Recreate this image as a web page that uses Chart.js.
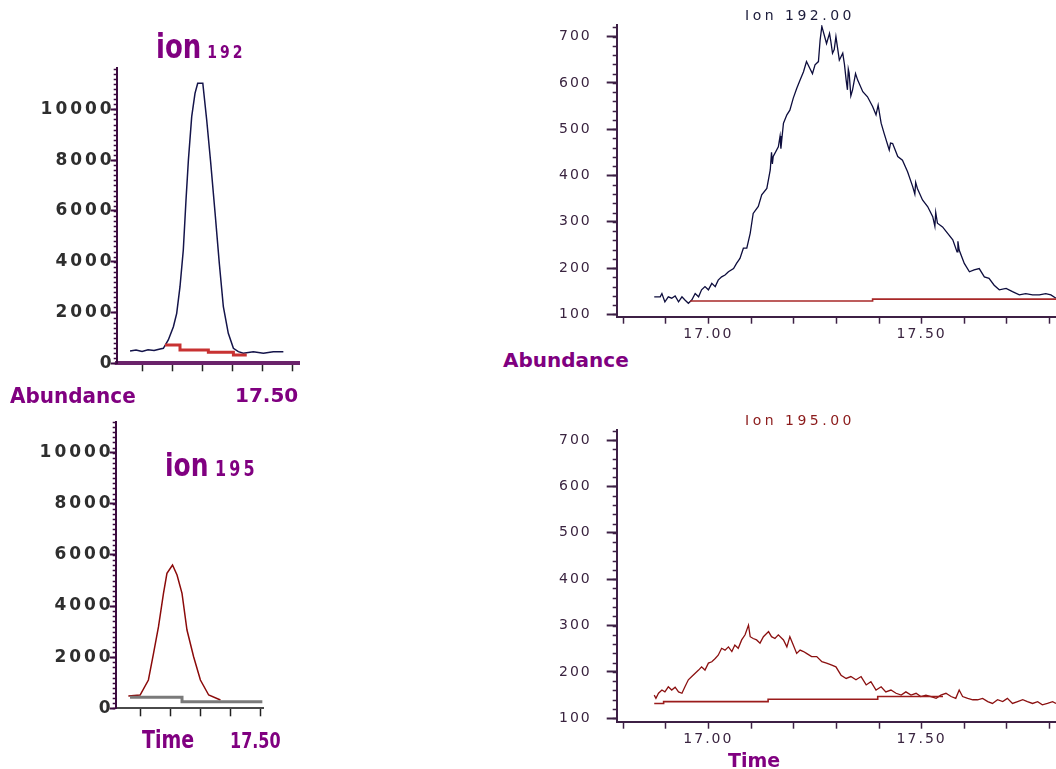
<!DOCTYPE html>
<html lang="en">
<head>
<meta charset="UTF-8">
<title>Ion 192 / Ion 195</title>
<script src="https://cdn.jsdelivr.net/npm/chart.js"></script>
<style>
  html, body { margin: 0; padding: 0; background: #fff; }
  body { position: relative; width: 1056px; height: 769px; overflow: hidden; font-family: 'DejaVu Sans', sans-serif; }
  canvas { position: absolute; }
  .t { position: absolute; white-space: nowrap; font-weight: bold; color: #800080; }
  .ion { position: absolute; white-space: nowrap; font-size: 14px; line-height: 14px; letter-spacing: 3.5px; }
</style>
</head>
<body>
  <canvas id="ion192s" width="300" height="340" style="left:0;top:40px"></canvas>
  <canvas id="ion195s" width="264" height="325" style="left:0;top:400px"></canvas>
  <canvas id="ion192" width="516" height="345" style="left:540px;top:0"></canvas>
  <canvas id="ion195" width="516" height="350" style="left:540px;top:400px"></canvas>

  <div class="t" style="left:156px;top:36px;font-size:26px;line-height:26px;transform:scaleY(1.3);transform-origin:0 22px">ion<span style="font-size:14px;letter-spacing:3px;margin-left:-2px"> 192</span></div>
  <div class="t" style="left:10px;top:386px;font-size:20px;line-height:20px;transform:scaleY(1.1);transform-origin:0 17px">Abundance</div>
  <div class="t" style="left:235px;top:385px;font-size:20px;line-height:20px">17.50</div>

  <div class="t" style="left:165px;top:455px;font-size:25px;line-height:25px;transform:scaleY(1.3);transform-origin:0 21px">ion<span style="font-size:16px;letter-spacing:3px;margin-left:-2px"> 195</span></div>
  <div class="t" style="left:142px;top:732px;font-size:19px;line-height:19px;transform:scaleY(1.33);transform-origin:0 16px">Time</div>
  <div class="t" style="left:230px;top:735px;font-size:16px;line-height:16px;transform:scaleY(1.3);transform-origin:0 13.5px">17.50</div>

  <div class="ion" style="left:745px;top:8px;color:#1b1b3a">Ion 192.00</div>
  <div class="ion" style="left:745px;top:413px;color:#8b1a1a">Ion 195.00</div>
  <div class="t" style="left:503px;top:350px;font-size:20px;line-height:20px">Abundance</div>
  <div class="t" style="left:728px;top:751px;font-size:19px;line-height:19px">Time</div>

<script>
// ---- left panels: whole peak, 0-10000 scale ----
const tickSmallY = [0, 2000, 4000, 6000, 8000, 10000];
const tick192sX = [16.9, 17.1, 17.3, 17.5, 17.7, 17.9];
const tick195sX = [16.9, 17.1, 17.3, 17.5, 17.7];

const t192s = [16.82, 16.86, 16.90, 16.94, 16.98, 17.02, 17.042, 17.075, 17.109, 17.131, 17.153, 17.175, 17.193, 17.209, 17.231, 17.253, 17.271, 17.305, 17.331, 17.358, 17.387, 17.415, 17.442, 17.475, 17.509, 17.542, 17.575, 17.642, 17.709, 17.775, 17.842];
const v192s = [480, 520, 470, 530, 500, 560, 590, 917, 1441, 1968, 3016, 4461, 6429, 8004, 9709, 10630, 11024, 11024, 9579, 7874, 5906, 3937, 2228, 1181, 590, 457, 394, 457, 394, 457, 457];
const tBase192s = [17.053, 17.153, 17.342, 17.509, 17.598];
const vBase192s = [720, 523, 433, 327, 327];

const t195s = [16.822, 16.900, 16.955, 16.989, 17.022, 17.055, 17.078, 17.115, 17.145, 17.178, 17.211, 17.255, 17.300, 17.355, 17.433];
const v195s = [481, 520, 1107, 2152, 3192, 4499, 5282, 5607, 5215, 4499, 3063, 2019, 1107, 520, 325];
const tBase195s = [16.833, 17.178, 17.711];
const vBase195s = [430, 258, 258];

// ---- right panels: expanded, 100-700 scale ----
const tickTimeX = [16.8, 16.9, 17.0, 17.1, 17.2, 17.3, 17.4, 17.5, 17.6, 17.7, 17.8];
const labelTimeX = [17.0, 17.5];
const tickAbundY = [100, 200, 300, 400, 500, 600, 700];

const t192 = [16.873, 16.887, 16.891, 16.898, 16.906, 16.914, 16.922, 16.930, 16.938, 16.945, 16.953, 16.961, 16.969, 16.977, 16.984, 16.992,
  17.000, 17.008, 17.016, 17.023, 17.031, 17.039, 17.047, 17.059, 17.066, 17.074, 17.082, 17.090, 17.098, 17.105, 17.117, 17.125, 17.137, 17.145,
  17.148, 17.150, 17.152, 17.164, 17.168, 17.170, 17.172, 17.176, 17.184, 17.191, 17.199, 17.207, 17.215, 17.223, 17.230, 17.238, 17.244, 17.250,
  17.258, 17.262, 17.266, 17.277, 17.284, 17.287, 17.291, 17.295, 17.299, 17.307, 17.315, 17.319, 17.323, 17.326, 17.328, 17.330, 17.334, 17.338,
  17.345, 17.350, 17.362, 17.373, 17.385, 17.393, 17.398, 17.405, 17.412, 17.424, 17.427, 17.432, 17.444, 17.455, 17.467, 17.479, 17.484, 17.486,
  17.490, 17.502, 17.514, 17.526, 17.531, 17.533, 17.537, 17.549, 17.561, 17.573, 17.583, 17.585, 17.588, 17.600, 17.612, 17.623, 17.635, 17.647,
  17.658, 17.670, 17.682, 17.698, 17.713, 17.729, 17.744, 17.760, 17.776, 17.791, 17.803, 17.815];
const v192 = [138, 138, 145, 127, 138, 135, 140, 127, 138, 131, 124, 131, 145, 138, 153, 160,
  153, 167, 160, 174, 181, 185, 192, 199, 210, 221, 243, 243, 275, 318, 333, 358, 372, 412,
  450, 425, 441, 462, 485, 458, 477, 513, 531, 541, 567, 588, 606, 624, 646, 631, 620, 639,
  646, 693, 722, 685, 707, 690, 664, 672, 700, 649, 664, 640, 606, 585, 630, 621, 572, 585,
  620, 606, 581, 570, 549, 531, 552, 513, 491, 455, 470, 469, 441, 433, 408, 376, 360, 385,
  372, 347, 333, 311, 290, 320, 297, 289, 275, 261, 235, 258, 239, 210, 192, 196, 199, 181,
  178, 163, 153, 156, 149, 142, 145, 142, 142, 145, 142, 135];
const tBase192 = [16.957, 17.385, 17.815];
const vBase192 = [129, 133, 133];

const t195 = [16.873, 16.877, 16.883, 16.891, 16.898, 16.906, 16.914, 16.922, 16.930, 16.938, 16.945, 16.953, 16.961, 16.969, 16.977, 16.984, 16.992,
  17.000, 17.008, 17.016, 17.023, 17.031, 17.039, 17.047, 17.055, 17.062, 17.070, 17.078, 17.086, 17.094, 17.098, 17.105, 17.113, 17.121, 17.129,
  17.141, 17.148, 17.156, 17.164, 17.176, 17.184, 17.191, 17.199, 17.207, 17.215, 17.223, 17.230, 17.242, 17.254, 17.266, 17.277, 17.288, 17.299,
  17.311, 17.323, 17.334, 17.346, 17.358, 17.370, 17.381, 17.393, 17.405, 17.416, 17.428, 17.440, 17.452, 17.463, 17.475, 17.487, 17.498, 17.510,
  17.522, 17.534, 17.545, 17.557, 17.569, 17.580, 17.588, 17.596, 17.608, 17.620, 17.631, 17.643, 17.655, 17.666, 17.678, 17.690, 17.701, 17.713,
  17.725, 17.737, 17.748, 17.760, 17.772, 17.783, 17.795, 17.807, 17.815];
const v195 = [150, 143, 154, 161, 157, 168, 161, 167, 157, 154, 168, 183, 190, 197, 204, 211, 204,
  219, 222, 229, 236, 251, 247, 254, 244, 258, 251, 269, 280, 301, 276, 272, 269, 262, 276,
  287, 276, 272, 280, 269, 254, 276, 258, 240, 247, 244, 240, 233, 233, 222, 219, 215, 211,
  193, 186, 190, 183, 190, 172, 179, 161, 168, 157, 161, 154, 150, 157, 150, 154, 147, 150,
  147, 143, 150, 154, 147, 143, 161, 147, 143, 140, 140, 143, 136, 132, 140, 136, 143, 132,
  136, 140, 136, 132, 136, 129, 132, 136, 132];
const tBase195 = [16.873, 16.895, 17.140, 17.397, 17.550];
const vBase195 = [132, 136, 141, 147, 147];

// letter spacing for canvas text + minor ticks on the y axis
const decor = {
  id: 'decor',
  beforeDraw(chart, args, o) {
    chart.ctx.letterSpacing = (o.spacing || 0) + 'px';
  },
  afterDraw(chart, args, o) {
    const ys = chart.scales.y, ctx = chart.ctx;
    ctx.save();
    ctx.strokeStyle = o.color;
    ctx.lineWidth = o.width;
    ctx.beginPath();
    for (let v = Math.ceil(ys.min / o.step) * o.step; v <= ys.max; v += o.step) {
      const py = Math.round(ys.getPixelForValue(v)) + 0.5;
      ctx.moveTo(ys.right - o.len, py);
      ctx.lineTo(ys.right, py);
    }
    ctx.stroke();
    ctx.restore();
  }
};

function line(xs, ys, color, width, stepped) {
  return {
    data: xs.map((x, i) => ({ x: x, y: ys[i] })),
    borderColor: color, borderWidth: width,
    pointRadius: 0, tension: 0, fill: false, stepped: stepped
  };
}

function makeChart(id, c) {
  return new Chart(document.getElementById(id), {
    type: 'line',
    data: { datasets: c.datasets },
    plugins: [decor],
    options: {
      responsive: false,
      animation: false,
      events: [],
      layout: { padding: { top: c.padTop, left: 0, right: 0, bottom: 0 } },
      plugins: { legend: { display: false }, tooltip: { enabled: false }, decor: c.decor },
      scales: {
        x: {
          type: 'linear', min: c.xMin, max: c.xMax,
          afterBuildTicks: s => { s.ticks = c.xTicks.map(v => ({ value: v })); },
          afterFit: s => { s.height = c.xh; },
          border: { color: c.xBorder, width: c.xBorderW },
          grid: { drawOnChartArea: false, tickLength: c.xTickLen, tickWidth: 1.5, tickColor: c.xTickColor },
          ticks: {
            autoSkip: false, maxRotation: 0, padding: 2, color: c.text,
            font: { family: 'DejaVu Sans', size: 14 },
            callback: v => c.xLabels.some(l => Math.abs(l - v) < 1e-6) ? v.toFixed(2) : ''
          }
        },
        y: {
          type: 'linear', min: c.yMin, max: c.yMax,
          afterBuildTicks: s => { s.ticks = c.yTicks.map(v => ({ value: v })); },
          afterFit: s => { s.width = c.yw; },
          border: { color: c.yBorder, width: 2 },
          grid: { drawOnChartArea: false, tickLength: c.yTickLen, tickWidth: 2, tickColor: c.yBorder },
          ticks: {
            padding: c.yPad, color: c.text,
            font: { family: 'DejaVu Sans', size: c.yFont, weight: c.yWeight },
            callback: v => String(v)
          }
        }
      }
    }
  });
}

makeChart('ion192s', {
  datasets: [line(tBase192s, vBase192s, '#c83232', 3, true), line(t192s, v192s, '#14144a', 1.5, false)],
  padTop: 28.3, xh: 16.7, yw: 116.7,
  xMin: 16.731, xMax: 17.953, xTicks: tick192sX, xLabels: [],
  xBorder: '#6b236b', xBorderW: 4, xTickLen: 8, xTickColor: '#222',
  yMin: 0, yMax: 11614, yTicks: tickSmallY, yBorder: '#3c0c40', yTickLen: 6, yPad: -4,
  yFont: 17, yWeight: 'bold', text: '#2e2e2e',
  decor: { spacing: 3, step: 200, len: 3, width: 1.5, color: '#3c0c40' }
});

makeChart('ion195s', {
  datasets: [line(tBase195s, vBase195s, '#7a7a7a', 3, true), line(t195s, v195s, '#8b0a0a', 1.5, false)],
  padTop: 21.7, xh: 16.7, yw: 115.7,
  xMin: 16.738, xMax: 17.722, xTicks: tick195sX, xLabels: [],
  xBorder: '#4a4a4a', xBorderW: 2, xTickLen: 8, xTickColor: '#222',
  yMin: 0, yMax: 11213, yTicks: tickSmallY, yBorder: '#3c0c40', yTickLen: 6, yPad: -4,
  yFont: 17, yWeight: 'bold', text: '#2e2e2e',
  decor: { spacing: 3, step: 200, len: 3, width: 1.5, color: '#3c0c40' }
});

makeChart('ion192', {
  datasets: [line(tBase192, vBase192, '#a82828', 1.6, true), line(t192, v192, '#0d0d3d', 1.3, false)],
  padTop: 25, xh: 28.3, yw: 76.7,
  xMin: 16.785, xMax: 17.815, xTicks: tickTimeX, xLabels: labelTimeX,
  xBorder: '#3d2045', xBorderW: 2, xTickLen: 7, xTickColor: '#3d2045',
  yMin: 95, yMax: 725, yTicks: tickAbundY, yBorder: '#3d2045', yTickLen: 10, yPad: 15,
  yFont: 14, yWeight: 'normal', text: '#3a2440',
  decor: { spacing: 2, step: 20, len: 4, width: 1.5, color: '#3d2045' }
});

makeChart('ion195', {
  datasets: [line(tBase195, vBase195, '#9b1c1c', 1.6, true), line(t195, v195, '#8b1010', 1.3, false)],
  padTop: 30, xh: 28.3, yw: 76.7,
  xMin: 16.785, xMax: 17.815, xTicks: tickTimeX, xLabels: labelTimeX,
  xBorder: '#3d2045', xBorderW: 2, xTickLen: 7, xTickColor: '#3d2045',
  yMin: 92.7, yMax: 721.6, yTicks: tickAbundY, yBorder: '#3d2045', yTickLen: 10, yPad: 15,
  yFont: 14, yWeight: 'normal', text: '#3a2440',
  decor: { spacing: 2, step: 20, len: 4, width: 1.5, color: '#3d2045' }
});
</script>
</body>
</html>
